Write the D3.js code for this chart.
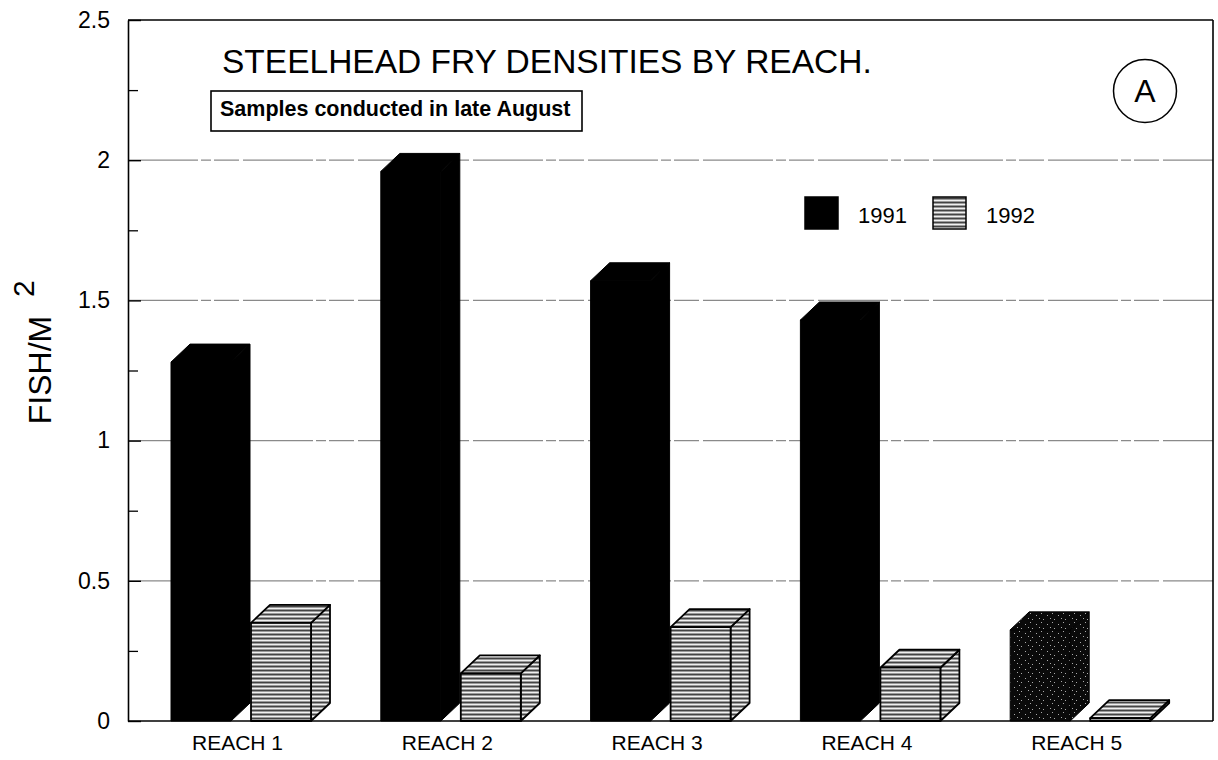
<!DOCTYPE html>
<html><head><meta charset="utf-8">
<script src="https://cdn.jsdelivr.net/npm/d3@7"></script>
<style>body{margin:0;background:#fff} svg{display:block}</style>
</head><body>
<svg id="chart" width="1218" height="760"></svg>
<script>
const reaches = ["REACH 1","REACH 2","REACH 3","REACH 4","REACH 5"];
const years = ["1991","1992"];
const values1991 = [1.28, 1.96, 1.57, 1.43, 0.325];
const values1992 = [0.35, 0.17, 0.335, 0.19, 0.01];
const yTicks = [0, 0.5, 1, 1.5, 2, 2.5];
const yMinorTicks = [0.25, 0.75, 1.25, 1.75, 2.25];
const gridValues = [0.5, 1, 1.5, 2];
const titleText = "STEELHEAD FRY DENSITIES BY REACH.";
const subtitleText = "Samples conducted in late August";
const yLabel = "FISH/M";
const yLabelSup = "2";
const panelLetter = "A";

const svg = d3.select("#chart");
const font = "'Liberation Sans', Arial, Helvetica, sans-serif";
const plotL = 128, plotR = 1213, plotT = 20, plotB = 721;
const y = d3.scaleLinear().domain([0, 2.5]).range([plotB, plotT]);
const x0 = d3.scaleBand().domain(reaches).range([plotL, 1177]);
const x1 = d3.scaleBand().domain(years).range([43, 183]).paddingInner(0.25);
const dx = 19, dy = 18;

// patterns
const defs = svg.append("defs");
const p = defs.append("pattern").attr("id", "stripes").attr("patternUnits", "userSpaceOnUse")
  .attr("width", 8).attr("height", 4);
p.append("rect").attr("width", 8).attr("height", 4).attr("fill", "#9a9a9a");
p.append("rect").attr("y", 0).attr("width", 8).attr("height", 1).attr("fill", "#f0f0f0");
p.append("rect").attr("y", 2).attr("width", 8).attr("height", 1).attr("fill", "#444");
const sp = defs.append("pattern").attr("id", "speckle").attr("patternUnits", "userSpaceOnUse")
  .attr("width", 11).attr("height", 9);
sp.append("rect").attr("width", 11).attr("height", 9).attr("fill", "#0a0a0a");
[[2,3],[7,1],[5,6],[9,7]].forEach(([a,b]) =>
  sp.append("rect").attr("x", a).attr("y", b).attr("width", 1).attr("height", 1).attr("fill", "#aaa"));

// gridlines
svg.append("g").selectAll("line").data(gridValues).join("line")
  .attr("x1", plotL).attr("x2", plotR)
  .attr("y1", d => y(d)).attr("y2", d => y(d))
  .attr("stroke", "#8a8a8a").attr("stroke-width", 1.3)
  .attr("stroke-dasharray", "70,3,10,3,25,4");

// frame
const frame = svg.append("g").attr("stroke", "#000").attr("stroke-width", 1.6).attr("fill", "none");
frame.append("line").attr("x1", plotL).attr("x2", plotR).attr("y1", plotT).attr("y2", plotT);
frame.append("line").attr("x1", plotR).attr("x2", plotR).attr("y1", plotT).attr("y2", plotB);
frame.append("line").attr("x1", plotL).attr("x2", plotR).attr("y1", plotB).attr("y2", plotB);

// y axis
const yAxis = svg.append("g").attr("transform", `translate(${plotL},0)`)
  .call(d3.axisLeft(y).tickValues(yTicks).tickSizeInner(-13).tickSizeOuter(0).tickPadding(18)
    .tickFormat(d => d3.format("")(d)));
yAxis.select(".domain").attr("stroke-width", 1.6);
yAxis.selectAll(".tick line").attr("stroke-width", 1.4);
yAxis.selectAll("text").attr("font-family", font).attr("font-size", 23).attr("fill", "#000");
const yMinor = svg.append("g").attr("transform", `translate(${plotL},0)`)
  .call(d3.axisLeft(y).tickValues(yMinorTicks).tickSizeInner(-10).tickSizeOuter(0).tickFormat(""));
yMinor.select(".domain").remove();
yMinor.selectAll(".tick line").attr("stroke-width", 1.3);

// bars
function boxPaths(xl, w, yt) {
  return {
    front: `M${xl},${yt}H${xl + w}V${plotB}H${xl}Z`,
    top: `M${xl},${yt}L${xl + dx},${yt - dy}H${xl + w + dx}L${xl + w},${yt}Z`,
    side: `M${xl + w},${yt}L${xl + w + dx},${yt - dy}V${plotB - dy}L${xl + w},${plotB}Z`
  };
}
const barData = [];
reaches.forEach((r, i) => {
  barData.push({reach: r, year: "1991", value: values1991[i], idx: i});
  barData.push({reach: r, year: "1992", value: values1992[i], idx: i});
});
const bars = svg.append("g");
barData.forEach(d => {
  const xl = x0(d.reach) + x1(d.year);
  const w = x1.bandwidth();
  const P = boxPaths(xl, w, y(d.value));
  const g = bars.append("g");
  if (d.year === "1991") {
    const fill = d.idx === reaches.length - 1 ? "url(#speckle)" : "#000";
    ["side", "top", "front"].forEach(k =>
      g.append("path").attr("d", P[k]).attr("fill", fill).attr("stroke", "#000").attr("stroke-width", 1)
        .attr("stroke-linejoin", "round"));
  } else {
    ["side", "top", "front"].forEach(k =>
      g.append("path").attr("d", P[k]).attr("fill", "url(#stripes)").attr("stroke", "#000")
        .attr("stroke-width", 1.8).attr("stroke-linejoin", "round"));
  }
});

// x labels
const labelOffset = x1(years[0]) + 21;
svg.append("g").selectAll("text").data(reaches).join("text")
  .attr("x", d => x0(d) + labelOffset).attr("y", 750)
  .attr("text-anchor", "start").attr("font-family", font).attr("font-size", 21)
  .text(d => d);

// title
svg.append("text").attr("x", 222).attr("y", 73).attr("font-family", font)
  .attr("font-size", 33.5).text(titleText);
svg.append("rect").attr("x", 211).attr("y", 91).attr("width", 371).attr("height", 40)
  .attr("fill", "#fff").attr("stroke", "#000").attr("stroke-width", 1.6);
svg.append("text").attr("x", 220).attr("y", 116).attr("font-family", font)
  .attr("font-size", 21.5).attr("font-weight", "bold").text(subtitleText);

// panel letter
svg.append("circle").attr("cx", 1145).attr("cy", 91).attr("r", 31.5)
  .attr("fill", "none").attr("stroke", "#000").attr("stroke-width", 1.5);
svg.append("text").attr("x", 1145).attr("y", 102).attr("text-anchor", "middle")
  .attr("font-family", font).attr("font-size", 32).text(panelLetter);

// legend
const legend = svg.append("g");
const legendX = [805, 933];
years.forEach((yr, i) => {
  legend.append("rect").attr("x", legendX[i]).attr("y", 197).attr("width", 33).attr("height", 32)
    .attr("fill", i === 0 ? "#000" : "url(#stripes)").attr("stroke", "#000").attr("stroke-width", 1.5);
  legend.append("text").attr("x", legendX[i] + 53).attr("y", 223)
    .attr("font-family", font).attr("font-size", 22).text(yr);
});

// y label
svg.append("text").attr("transform", "translate(51,370) rotate(-90)")
  .attr("text-anchor", "middle").attr("font-family", font).attr("font-size", 32).text(yLabel);
svg.append("text").attr("transform", "translate(34,297) rotate(-90)")
  .attr("text-anchor", "start").attr("font-family", font).attr("font-size", 30).text(yLabelSup);
</script>
</body></html>
